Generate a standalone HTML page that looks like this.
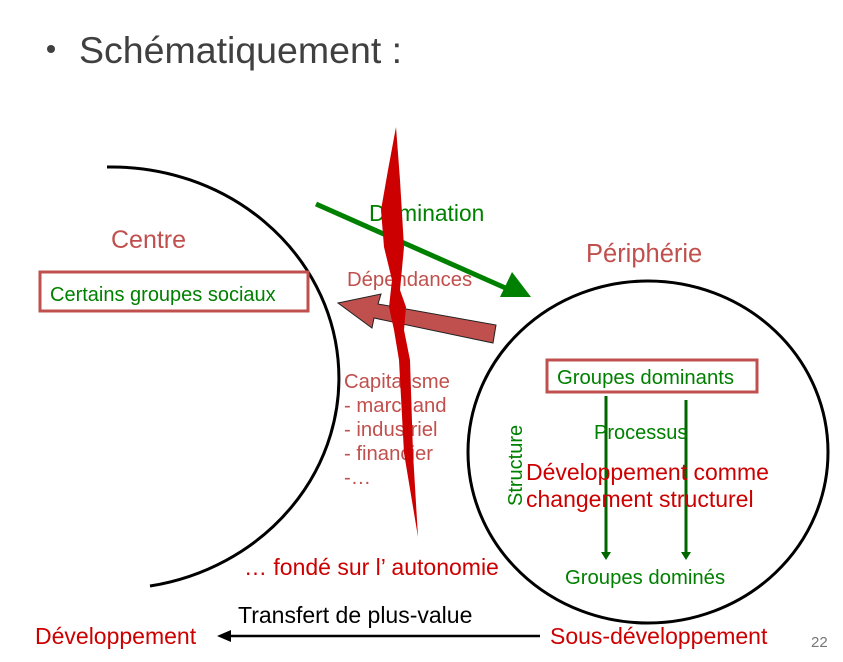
<!DOCTYPE html>
<html><head><meta charset="utf-8"><style>
html,body{margin:0;padding:0;background:#fff;}
svg{display:block;font-family:"Liberation Sans",sans-serif;}
</style></head><body>
<svg width="843" height="662" viewBox="0 0 843 662" xmlns="http://www.w3.org/2000/svg">
<circle cx="51" cy="49" r="4" fill="#404040"/>
<text x="79" y="63" font-size="37.5" fill="#404040">Schématiquement :</text>
<path d="M107,167 L110,167 A227 211 0 0 1 150,586" fill="none" stroke="#000" stroke-width="3"/>
<ellipse cx="648" cy="452" rx="180" ry="171" fill="none" stroke="#000" stroke-width="3"/>
<text x="111" y="248" font-size="25" fill="#c0504d">Centre</text>
<rect x="40" y="272" width="268" height="39" fill="none" stroke="#c0504d" stroke-width="3"/>
<text x="50" y="301" font-size="20" fill="#008000">Certains groupes sociaux</text>
<text x="586" y="262" font-size="25.5" fill="#c0504d">Périphérie</text>
<line x1="316" y1="204" x2="510" y2="290" stroke="#008000" stroke-width="5"/>
<polygon points="531,297 500,297 512,272" fill="#008000"/>
<text x="369" y="221" font-size="22.8" fill="#008000">Domination</text>
<text x="347" y="286" font-size="20.3" fill="#c0504d">Dépendances</text>
<polygon points="338,303 381,294 378,304 496,325 493,343 374,318 372,328" fill="#c0504d" stroke="#222" stroke-width="1"/>
<text font-size="20.3" fill="#c0504d"><tspan x="344" y="388">Capitalisme</tspan><tspan x="344" y="412">- marchand</tspan><tspan x="344" y="436">- industriel</tspan><tspan x="344" y="460">- financier</tspan><tspan x="344" y="484">-…</tspan></text>
<polygon points="396,127 400,180 404,247 400,290 406,307 404,330 410,360 413,453 418,537 404,453 399,360 394,330 389,307 392,280 384,247 381,210 388,170" fill="#cc0000"/>
<text x="244" y="575" font-size="23" fill="#cc0000">… fondé sur l’ autonomie</text>
<rect x="547" y="360" width="210" height="32" fill="none" stroke="#c0504d" stroke-width="3"/>
<text x="557" y="384" font-size="20.3" fill="#008000">Groupes dominants</text>
<line x1="606" y1="396" x2="606" y2="552" stroke="#006600" stroke-width="3"/>
<polygon points="601,552 611,552 606,560" fill="#006600"/>
<line x1="686" y1="400" x2="686" y2="552" stroke="#006600" stroke-width="3"/>
<polygon points="681,552 691,552 686,560" fill="#006600"/>
<text x="594" y="439" font-size="20" fill="#008000">Processus</text>
<text transform="translate(522,506) rotate(-90)" font-size="20" fill="#008000">Structure</text>
<text font-size="23" fill="#cc0000"><tspan x="526" y="480">Développement comme</tspan><tspan x="526" y="507">changement structurel</tspan></text>
<text x="565" y="584" font-size="20.3" fill="#008000">Groupes dominés</text>
<text x="238" y="623" font-size="23" fill="#000">Transfert de plus-value</text>
<line x1="540" y1="636" x2="230" y2="636" stroke="#000" stroke-width="2.5"/>
<polygon points="217,636 231,630 231,642" fill="#000"/>
<text x="35" y="644" font-size="23" fill="#cc0000">Développement</text>
<text x="550" y="644" font-size="23" fill="#cc0000">Sous-développement</text>
<text x="811" y="647" font-size="15" fill="#777">22</text>
</svg>
</body></html>
